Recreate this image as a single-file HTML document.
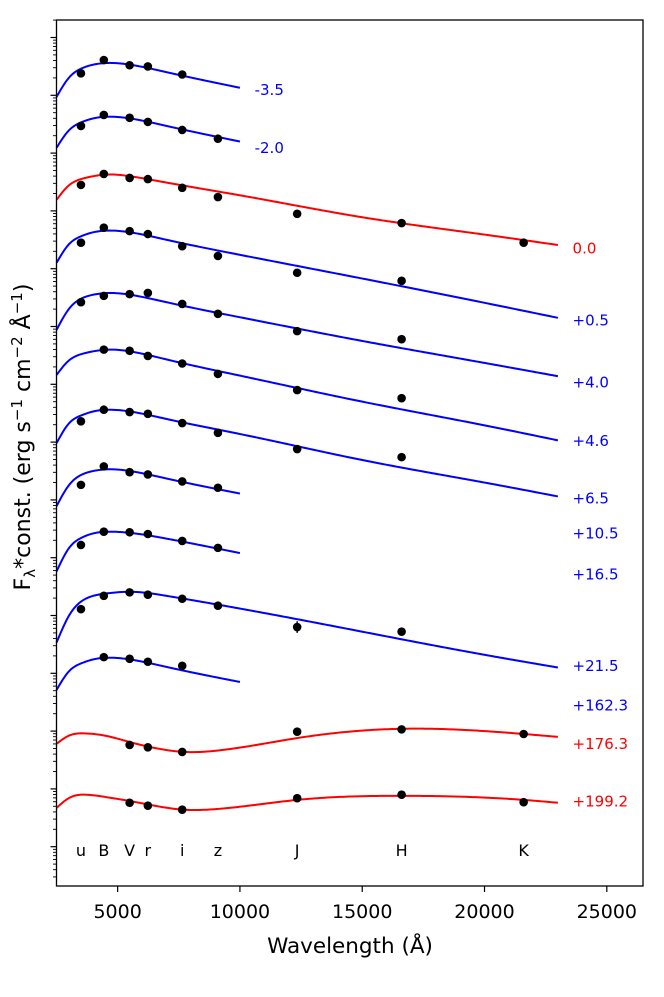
<!DOCTYPE html>
<html><head><meta charset="utf-8"><style>
html,body{margin:0;padding:0;background:#fff;}
svg{display:block;font-family:"DejaVu Sans","Liberation Sans",sans-serif;}
</style></head><body>
<svg id="chart" width="664" height="997" viewBox="0 0 664 997" xmlns="http://www.w3.org/2000/svg">
<g id="curves"></g>
<g id="points"></g>
<g id="labels"></g>
<g id="bands"></g>
<g id="axes"></g>
<text x="350" y="953" font-size="21.5" text-anchor="middle">Wavelength (Å)</text>
<text transform="translate(30,437) rotate(-90)" font-size="22" text-anchor="middle">F<tspan font-size="15" dy="5">λ</tspan><tspan dy="-5">*const. (erg s</tspan><tspan font-size="15" dy="-8">−1</tspan><tspan dy="8"> cm</tspan><tspan font-size="15" dy="-8">−2</tspan><tspan dy="8"> Å</tspan><tspan font-size="15" dy="-8">−1</tspan><tspan dy="8">)</tspan></text>
</svg>
<script>
// ---- data ----
const bandNames = ["u","B","V","r","i","z","J","H","K"];
const bandWave = [3500,4435,5490,6235,7640,9100,12340,16610,21600];
const epochLabels = ["-3.5","-2.0","0.0","+0.5","+4.0","+4.6","+6.5","+10.5","+16.5","+21.5","+162.3","+176.3","+199.2"];
const epochColors = ["blue","blue","red","blue","blue","blue","blue","blue","blue","blue","blue","red","red"];
const labelWave = [10600,10600,23600,23600,23600,23600,23600,23600,23600,23600,23600,23600,23600];
const labelLogF = [13.09,12.09,10.35,9.10,8.03,7.02,6.02,5.42,4.71,3.13,2.44,1.78,0.78];
// photometry: band index and log flux (decades)
const ptBands = [
 [0,1,2,3,4],[0,1,2,3,4,5],[0,1,2,3,4,5,6,7,8],[0,1,2,3,4,5,6,7],[0,1,2,3,4,5,6,7],
 [1,2,3,4,5,6,7],[0,1,2,3,4,5,6,7],[0,1,2,3,4,5],[0,1,2,3,4,5],[0,1,2,3,4,5,6,7],
 [1,2,3,4],[2,3,4,6,7,8],[2,3,4,6,7,8]];
const ptLogF = [
 [13.38,13.61,13.52,13.50,13.36],
 [12.47,12.66,12.61,12.54,12.40,12.25],
 [11.45,11.64,11.57,11.55,11.40,11.24,10.95,10.79,10.45],
 [10.45,10.71,10.65,10.60,10.39,10.22,9.93,9.79],
 [9.42,9.53,9.56,9.58,9.39,9.22,8.92,8.78],
 [8.60,8.58,8.49,8.36,8.18,7.90,7.76],
 [7.36,7.56,7.52,7.49,7.33,7.16,6.88,6.74],
 [6.26,6.58,6.48,6.44,6.32,6.21],
 [5.22,5.45,5.44,5.41,5.29,5.17],
 [4.11,4.34,4.40,4.36,4.29,4.17,3.80,3.72],
 [3.28,3.25,3.20,3.13],
 [1.76,1.72,1.64,1.99,2.03,1.95],
 [0.76,0.71,0.64,0.84,0.90,0.77]];
const ptErr = [[],[],[],[],[],[],[],[],[],[0,0,0,0,0,0,0.1,0],[],[],[]];
// model curves
const waveStd = [2500,3000,3500,4000,4700,5500,7000,10000,15000,20000,23000];
const waveRed = [2500,3000,3700,4500,5500,6500,7700,9000,12350,16600,21600,23000];
const curveWaveSet = [0,0,0,0,0,0,0,0,0,0,0,1,1];
const curveLogF = [
 [12.97,13.30,13.46,13.53,13.56,13.53,13.40,13.13],
 [12.09,12.39,12.53,12.60,12.63,12.60,12.47,12.20],
 [11.19,11.44,11.55,11.60,11.63,11.60,11.49,11.27,10.89,10.59,10.41],
 [10.10,10.42,10.56,10.63,10.66,10.63,10.50,10.24,9.83,9.41,9.15],
 [8.94,9.30,9.48,9.55,9.58,9.55,9.42,9.16,8.75,8.37,8.14],
 [8.16,8.41,8.52,8.57,8.60,8.57,8.43,8.15,7.70,7.29,7.03],
 [6.98,7.32,7.46,7.53,7.56,7.53,7.40,7.14,6.69,6.30,6.06],
 [5.89,6.25,6.43,6.50,6.53,6.50,6.37,6.11],
 [4.76,5.16,5.34,5.42,5.45,5.43,5.33,5.08],
 [3.53,3.99,4.24,4.34,4.39,4.41,4.34,4.12,3.72,3.32,3.10],
 [2.71,3.03,3.17,3.24,3.27,3.24,3.11,2.85],
 [1.78,1.92,1.96,1.92,1.81,1.71,1.64,1.66,1.88,2.04,1.95,1.90],
 [0.67,0.84,0.90,0.86,0.79,0.71,0.64,0.65,0.81,0.88,0.81,0.76]];
const xTicks = [5000,10000,15000,20000,25000];
const yDecades = [0,1,2,3,4,5,6,7,8,9,10,11,12,13,14,15];

// ---- axes functions ----
const L=56.5,R=643,T=20,B=886;
const X0=2500,X1=26480;
function sx(w){return L+(w-X0)/(X1-X0)*(R-L);}
function sy(d){return 846.7-57.8*d;}
const NS="http://www.w3.org/2000/svg";
function mk(tag,parent,attrs){const e=document.createElementNS(NS,tag);for(const k in attrs)e.setAttribute(k,attrs[k]);parent.appendChild(e);return e;}

// natural cubic spline through (xs, ys)
function spline(xs,ys){
  const n=xs.length,h=[],a=[],l=[1],mu=[0],z=[0],c=new Array(n).fill(0),b=[],d=[];
  for(let i=0;i<n-1;i++)h.push(xs[i+1]-xs[i]);
  for(let i=1;i<n-1;i++)a[i]=3/h[i]*(ys[i+1]-ys[i])-3/h[i-1]*(ys[i]-ys[i-1]);
  for(let i=1;i<n-1;i++){l[i]=2*(xs[i+1]-xs[i-1])-h[i-1]*mu[i-1];mu[i]=h[i]/l[i];z[i]=(a[i]-h[i-1]*z[i-1])/l[i];}
  for(let j=n-2;j>=0;j--){c[j]=(j<n-1&&j>0?z[j]-mu[j]*c[j+1]:0);b[j]=(ys[j+1]-ys[j])/h[j]-h[j]*(c[j+1]+2*c[j])/3;d[j]=(c[j+1]-c[j])/(3*h[j]);}
  return function(x){let i=0;while(i<n-2&&x>xs[i+1])i++;const t=x-xs[i];return ys[i]+b[i]*t+c[i]*t*t+d[i]*t*t*t;};
}

const gC=document.getElementById('curves');
curveLogF.forEach((vals,i)=>{
  const ws=(curveWaveSet[i]===0?waveStd:waveRed).slice(0,vals.length);
  const f=spline(ws,vals);
  let dstr="";
  const w0=ws[0],w1=ws[ws.length-1];
  for(let k=0;k<=200;k++){const w=w0+(w1-w0)*k/200;dstr+=(k?"L":"M")+sx(w).toFixed(2)+","+sy(f(w)).toFixed(2);}
  const p=mk('path',gC,{d:dstr,fill:'none',stroke:epochColors[i],'stroke-width':2});
  
  
});

const gP=document.getElementById('points');
ptLogF.forEach((vals,i)=>{
  vals.forEach((v,j)=>{
    const bi=ptBands[i][j];
    const cx=sx(bandWave[bi]),cy=sy(v);
    const e=ptErr[i][j]||0;
    if(e>0){
      const l=mk('line',gP,{x1:cx,x2:cx,y1:sy(v+e),y2:sy(v-e),stroke:'#000','stroke-width':1.5});
      
      
    }
    const c=mk('circle',gP,{cx:cx,cy:cy,r:4.3,fill:'#000'});
    
    
  });
});

const gL=document.getElementById('labels');
epochLabels.forEach((s,i)=>{
  const t=mk('text',gL,{x:sx(labelWave[i]),y:sy(labelLogF[i])+5,'font-size':15,fill:epochColors[i]});
  t.textContent=s;
  
  
});

const gB=document.getElementById('bands');
bandNames.forEach((s,i)=>{
  const t=mk('text',gB,{x:sx(bandWave[i]),y:856,'font-size':16,'text-anchor':'middle'});
  t.textContent=s;
  
  
});

const gA=document.getElementById('axes');
const frame=mk('rect',gA,{x:L,y:T,width:R-L,height:B-T,fill:'none',stroke:'#000','stroke-width':1.3});


xTicks.forEach(v=>{
  const x=sx(v);
  const l=mk('line',gA,{x1:x,x2:x,y1:B,y2:B+6,stroke:'#000','stroke-width':1.2});
  
  
  const t=mk('text',gA,{x:x,y:B+32,'font-size':19,'text-anchor':'middle'});
  t.textContent=v;
  
  
});
yDecades.forEach(k=>{
  for(let m=1;m<=9;m++){
    const d=k-1+Math.log10(m);
    const y=sy(d);
    if(y<T||y>B)continue;
    const len=m===1?6:3.5;
    const l=mk('line',gA,{x1:L-len,x2:L,y1:y,y2:y,stroke:'#000','stroke-width':m===1?1.2:0.9});
    
    
  }
});
</script>
</body></html>
